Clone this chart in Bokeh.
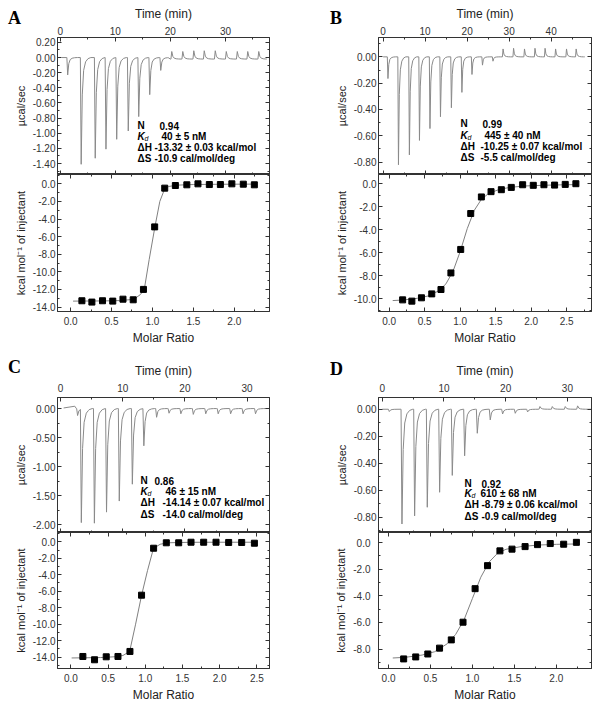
import numpy as np
from bokeh.plotting import figure
from bokeh.models import Range1d, LinearAxis, FixedTicker, PrintfTickFormatter, Label, Div
from bokeh.layouts import row, column
from bokeh.embed import file_html
from bokeh.resources import INLINE

# ---------------- data ----------------
# Panel A
a_inj_time = [1.2, 3.65, 6.2, 8.15, 10.1, 12.2, 14.1, 16.1, 18.1, 20.1, 22.1, 24.1, 26.0, 28.0, 30.0, 32.0, 33.9, 35.9]
a_inj_peak = [-0.23, -1.41, -1.33, -1.21, -1.08, -0.97, -0.78, -0.49, -0.17, 0.10, 0.10, 0.11, 0.11, 0.11, 0.10, 0.10, 0.10, 0.10]
a_base_time = [0.3, 19.6, 20.0, 37.5]
a_base_val = [0.0, 0.0, -0.02, -0.02]
a_ratio = [0.138, 0.26, 0.39, 0.515, 0.64, 0.765, 0.89, 1.027, 1.15, 1.28, 1.42, 1.556, 1.695, 1.83, 1.97, 2.11, 2.245]
a_heat = [-13.28, -13.43, -13.28, -13.32, -13.10, -13.17, -11.99, -4.89, -0.49, -0.19, -0.11, 0.0, -0.08, -0.08, 0.0, -0.04, -0.11]
a_fit_ratio = [0.03, 0.2, 0.4, 0.6, 0.77, 0.85, 0.9, 0.96, 1.03, 1.09, 1.15, 1.2, 1.3, 1.5, 1.8, 2.25]
a_fit_heat = [-13.32, -13.31, -13.3, -13.26, -13.12, -12.6, -12.0, -8.6, -4.9, -2.0, -0.55, -0.3, -0.15, -0.08, -0.05, -0.03]
a_stats = ["0.94", "40 ± 5 nM", "-13.32 ± 0.03 kcal/mol", "-10.9 cal/mol/deg"]

# Panel B
b_inj_time = [1.0, 3.5, 6.1, 8.5, 11.0, 13.5, 16.1, 18.6, 21.0, 23.5, 26.0, 28.4, 30.9, 33.5, 36.0, 38.4, 40.9, 43.5, 45.8]
b_inj_peak = [-0.165, -0.82, -0.745, -0.635, -0.545, -0.455, -0.387, -0.27, -0.134, -0.063, -0.033, 0.06, 0.065, 0.06, 0.065, 0.065, 0.06, 0.06, 0.06]
b_base_time = [0.0, 48.0]
b_base_val = [0.0, 0.0]
b_ratio = [0.19, 0.32, 0.455, 0.60, 0.73, 0.87, 1.008, 1.149, 1.299, 1.435, 1.58, 1.72, 1.88, 2.03, 2.18, 2.33, 2.48, 2.63]
b_heat = [-10.09, -10.2, -9.91, -9.57, -9.19, -7.75, -5.71, -2.59, -1.15, -0.69, -0.52, -0.32, -0.09, -0.14, -0.09, -0.12, -0.06, 0.0]
b_fit_ratio = [0.05, 0.2, 0.4, 0.55, 0.7, 0.8, 0.9, 1.0, 1.1, 1.2, 1.3, 1.4, 1.55, 1.7, 1.9, 2.2, 2.5, 2.65]
b_fit_heat = [-10.15, -10.1, -9.95, -9.75, -9.3, -8.7, -7.6, -5.9, -3.9, -2.3, -1.35, -0.85, -0.5, -0.32, -0.2, -0.13, -0.09, -0.08]
b_stats = ["0.99", "445 ± 40 nM", "-10.25 ± 0.07 kcal/mol", "-5.5 cal/mol/deg"]

# Panel C
c_inj_time = [2.6, 3.2, 5.3, 7.25, 9.3, 11.4, 13.25, 15.3, 17.3, 19.2, 21.2, 23.2, 25.2, 27.2, 29.2, 31.2]
c_inj_peak = [-0.12, -1.95, -1.97, -1.78, -1.59, -1.30, -0.64, -0.15, -0.08, -0.09, -0.10, -0.09, -0.09, -0.09, -0.09, -0.09]
c_base_time = [0.5, 2.3, 2.55, 33.6]
c_base_val = [0.01, 0.04, 0.0, 0.0]
c_ratio = [0.161, 0.318, 0.475, 0.633, 0.794, 0.950, 1.112, 1.283, 1.449, 1.615, 1.785, 1.951, 2.121, 2.296, 2.467]
c_heat = [-13.92, -14.32, -13.96, -13.92, -13.31, -6.48, -0.78, -0.12, -0.12, -0.05, -0.05, -0.05, -0.08, -0.08, -0.17]
c_fit_ratio = [0.01, 0.2, 0.4, 0.6, 0.7, 0.79, 0.87, 0.95, 1.03, 1.11, 1.2, 1.3, 1.6, 2.0, 2.47]
c_fit_heat = [-14.1, -14.08, -14.05, -13.95, -13.8, -13.31, -10.0, -6.5, -3.5, -0.8, -0.3, -0.12, -0.06, -0.05, -0.05]
c_stats = ["0.86", "46 ± 15 nM", "-14.14 ± 0.07 kcal/mol", "-14.0 cal/mol/deg"]

# Panel D
d_inj_time = [1.0, 3.05, 5.1, 7.15, 9.15, 11.2, 13.2, 15.25, 17.35, 19.35, 21.4, 23.4, 25.4, 27.4, 29.5, 31.5]
d_inj_peak = [-0.017, -0.85, -0.79, -0.726, -0.615, -0.49, -0.345, -0.178, -0.079, -0.035, -0.03, -0.02, 0.02, 0.02, 0.02, 0.025]
d_base_time = [0.0, 33.9]
d_base_val = [0.0, 0.0]
d_ratio = [0.18, 0.324, 0.468, 0.608, 0.748, 0.888, 1.032, 1.18, 1.328, 1.472, 1.628, 1.776, 1.928, 2.088, 2.24]
d_heat = [-8.74, -8.59, -8.37, -7.93, -7.31, -5.98, -3.46, -1.73, -0.62, -0.49, -0.30, -0.15, -0.07, -0.12, 0.02]
d_fit_ratio = [0.05, 0.2, 0.4, 0.55, 0.7, 0.8, 0.9, 1.0, 1.1, 1.2, 1.3, 1.4, 1.6, 1.8, 2.0, 2.25]
d_fit_heat = [-8.67, -8.62, -8.45, -8.2, -7.6, -6.9, -5.8, -4.2, -2.6, -1.45, -0.8, -0.5, -0.28, -0.18, -0.13, -0.1]
d_stats = ["0.92", "610 ± 68 nM", "-8.79 ± 0.06 kcal/mol", "-0.9 cal/mol/deg"]

# ticks
time_ticks_35 = [0, 10, 20, 30]
time_minor_35 = [5, 15, 25, 35]
time_ticks_45 = [0, 10, 20, 30, 40]
time_minor_45 = [5, 15, 25, 35, 45]
ratio_ticks = [0.0, 0.5, 1.0, 1.5, 2.0, 2.5]
ratio_minor = [0.25, 0.75, 1.25, 1.75, 2.25, 2.75]
a_top_ticks = [-1.4, -1.2, -1.0, -0.8, -0.6, -0.4, -0.2, 0.0, 0.2]
a_top_minor = [-1.5, -1.3, -1.1, -0.9, -0.7, -0.5, -0.3, -0.1, 0.1]
bd_top_ticks = [-0.8, -0.6, -0.4, -0.2, 0.0]
bd_top_minor = [-0.9, -0.7, -0.5, -0.3, -0.1, 0.1]
c_top_ticks = [-2.0, -1.5, -1.0, -0.5, 0.0]
c_top_minor = [-1.75, -1.25, -0.75, -0.25]
heat14_ticks = [-14.0, -12.0, -10.0, -8.0, -6.0, -4.0, -2.0, 0.0]
heat14_minor = [-15.0, -13.0, -11.0, -9.0, -7.0, -5.0, -3.0, -1.0, 1.0]
heat10_ticks = [-10.0, -8.0, -6.0, -4.0, -2.0, 0.0]
heat10_minor = [-11.0, -9.0, -7.0, -5.0, -3.0, -1.0]
heat8_ticks = [-8.0, -6.0, -4.0, -2.0, 0.0]
heat8_minor = [-9.0, -7.0, -5.0, -3.0, -1.0]

# ---------------- styling ----------------
SPIKE_DT = [0.0, 0.15, 0.35, 0.6, 0.95, 1.4, 1.9]
SPIKE_FR = [0.0, 1.0, 0.35, 0.12, 0.04, 0.01, 0.0]
AX = "#333333"
FONT = "Liberation Sans"
TRACE = "#8a8a8a"


def build_trace(base_t, base_v, inj_t, inj_h):
    t0, t1 = base_t[0], base_t[-1]
    pts = set(base_t)
    for t in inj_t:
        for dt in SPIKE_DT:
            pts.add(round(t + dt, 4))
        pts.add(round(t - 0.02, 4))
    xs = np.array(sorted(q for q in pts if t0 <= q <= t1))
    ys = np.interp(xs, base_t, base_v)
    for t, h in zip(inj_t, inj_h):
        ys = ys + np.interp(xs, np.array(SPIKE_DT) + t, np.array(SPIKE_FR) * h, left=0, right=0)
    return xs, ys


def style_axis(ax, ticks, minor, fmt, label=None, labels=True, label_size="11px",
               tick_standoff=2, label_standoff=3):
    ax.ticker = FixedTicker(ticks=ticks, minor_ticks=minor)
    ax.formatter = PrintfTickFormatter(format=fmt)
    ax.axis_line_color = AX
    ax.major_tick_line_color = AX
    ax.minor_tick_line_color = AX
    ax.major_tick_in = 4
    ax.major_tick_out = 0
    ax.minor_tick_in = 2
    ax.minor_tick_out = 0
    ax.major_label_text_font = FONT
    if labels:
        ax.major_label_text_color = "#333333"
        ax.major_label_text_font_size = "10px"
        ax.major_label_standoff = tick_standoff
    else:
        ax.major_label_text_color = None
        ax.major_label_text_font_size = "0px"
        ax.major_label_standoff = 0
    if label:
        ax.axis_label = label
        ax.axis_label_text_font = FONT
        ax.axis_label_text_font_size = label_size
        ax.axis_label_text_font_style = "normal"
        ax.axis_label_text_color = "#222222"
        ax.axis_label_standoff = label_standoff


def base_fig(fw, fh, xr, yr, br, bb, margin):
    # left and top borders are left at 0 so that the axes sit right on the frame
    p = figure(frame_width=fw, frame_height=fh, x_range=Range1d(*xr), y_range=Range1d(*yr),
               output_backend="svg", toolbar_location=None,
               x_axis_location=None, y_axis_location=None,
               min_border_left=0, min_border_right=br, min_border_top=0, min_border_bottom=bb,
               margin=margin)
    p.grid.visible = False
    p.outline_line_color = AX
    p.background_fill_color = "white"
    p.border_fill_color = None
    return p


def add_stats(p, lx, vx, ry, vals):
    names = ["N", "K", "\u0394H", "\u0394S"]
    for i in range(4):
        p.add_layout(Label(x=lx, y=ry[i], x_units="screen", y_units="screen", text=names[i],
                           text_font=FONT, text_font_style="bold italic" if i == 1 else "bold",
                           text_font_size="10px", text_baseline="middle", text_color="black"))
        p.add_layout(Label(x=vx[i], y=ry[i], x_units="screen", y_units="screen", text=vals[i],
                           text_font=FONT, text_font_style="bold",
                           text_font_size="10px", text_baseline="middle", text_color="black"))
    p.add_layout(Label(x=lx + 7, y=ry[1] - 2, x_units="screen", y_units="screen", text="d",
                       text_font=FONT, text_font_style="italic", text_font_size="7px",
                       text_baseline="middle", text_color="black"))


def letter_div(letter, mt, ml):
    h = 20
    html = ('<span style="font-family:\'Liberation Serif\',serif;font-weight:bold;'
            'font-size:18px;line-height:20px;color:black">%s</span>' % letter)
    return Div(text=html, width=24, height=h, margin=(mt, 0, -(mt + h), ml))


def make_panel(letter, letter_pos, fw, fh_top, fh_bot, ml, mt, br, bb, top_std, bot_left_std,
               t_range, top_y_range, t_ticks, t_minor, y_top_ticks, y_top_minor, y_top_fmt,
               base_t, base_v, inj_t, inj_h, stats, stat_pos,
               r_range, heat_range, heat_ticks, heat_minor,
               ratio, heat, fit_r, fit_h):
    # ---- top: raw thermogram
    top = base_fig(fw, fh_top, t_range, top_y_range, br, 0, (mt, 0, 0, ml))
    ax = LinearAxis(); style_axis(ax, t_ticks, t_minor, "%d", label="Time (min)", label_size="12px",
                                  tick_standoff=top_std[0], label_standoff=top_std[1])
    top.add_layout(ax, "above")
    ax = LinearAxis(); style_axis(ax, t_ticks, t_minor, "%d", labels=False)
    top.add_layout(ax, "below")
    ax = LinearAxis(); style_axis(ax, y_top_ticks, y_top_minor, y_top_fmt, label="\u00b5cal/sec",
                                  tick_standoff=2, label_standoff=3)
    top.add_layout(ax, "left")
    ax = LinearAxis(); style_axis(ax, y_top_ticks, y_top_minor, y_top_fmt, labels=False)
    top.add_layout(ax, "right")
    xs, ys = build_trace(base_t, base_v, inj_t, inj_h)
    top.line(xs, ys, line_color=TRACE, line_width=1)
    add_stats(top, stat_pos[0], stat_pos[1], stat_pos[2], stats)

    # ---- bottom: integrated heats
    bot = base_fig(fw, fh_bot, r_range, heat_range, br, bb, (0, 0, 0, ml))
    ax = LinearAxis(); style_axis(ax, ratio_ticks, ratio_minor, "%.1f", label="Molar Ratio", label_size="12px",
                                  tick_standoff=5, label_standoff=3)
    bot.add_layout(ax, "below")
    ax = LinearAxis(); style_axis(ax, ratio_ticks, ratio_minor, "%.1f", labels=False)
    bot.add_layout(ax, "above")
    ax = LinearAxis(); style_axis(ax, heat_ticks, heat_minor, "%.1f", label="kcal mol\u207b\u00b9 of injectant",
                                  tick_standoff=bot_left_std, label_standoff=3)
    bot.add_layout(ax, "left")
    ax = LinearAxis(); style_axis(ax, heat_ticks, heat_minor, "%.1f", labels=False)
    bot.add_layout(ax, "right")
    bot.line(fit_r, fit_h, line_color="#808080", line_width=1)
    bot.scatter(ratio, heat, marker="square", size=6, fill_color="black", line_color="black")
    return column(letter_div(letter, letter_pos[0], letter_pos[1]), top, bot)


pA = make_panel("A", (8, 8), 212, 137, 137, 11, 3, 63, 49, (3, 3), 2,
                (-0.5, 38.0), (-1.545, 0.265), time_ticks_35, time_minor_35,
                a_top_ticks, a_top_minor, "%.2f",
                a_base_time, a_base_val, a_inj_time, a_inj_peak, a_stats,
                (80, [102, 104, 97, 97], [49, 38, 27, 16]),
                (-0.16, 2.43), (-14.5, 1.06), heat14_ticks, heat14_minor,
                a_ratio, a_heat, a_fit_ratio, a_fit_heat)

pB = make_panel("B", (8, -2), 213, 137, 137, 0, 3, 4, 49, (3, 3), 2,
                (-1.1, 49.6), (-0.894, 0.147), time_ticks_45, time_minor_45,
                bd_top_ticks, bd_top_minor, "%.2f",
                b_base_time, b_base_val, b_inj_time, b_inj_peak, b_stats,
                (82, [104, 106, 102, 102], [51, 39, 28, 17]),
                (-0.15, 2.85), (-11.1, 0.8), heat10_ticks, heat10_minor,
                b_ratio, b_heat, b_fit_ratio, b_fit_heat)

pC = make_panel("C", (-3, 8), 212, 135, 136, 11, 0, 63, 36, (6, 3), 2,
                (-0.48, 33.6), (-2.13, 0.19), time_ticks_35, time_minor_35,
                c_top_ticks, c_top_minor, "%.2f",
                c_base_time, c_base_val, c_inj_time, c_inj_peak, c_stats,
                (83, [97, 108, 105, 105], [52, 41, 30, 18]),
                (-0.18, 2.67), (-15.38, 1.13), heat14_ticks, heat14_minor,
                c_ratio, c_heat, c_fit_ratio, c_fit_heat)

pD = make_panel("D", (-1, -2), 213, 135, 136, 0, 0, 4, 36, (6, 3), 8,
                (-0.6, 33.9), (-0.913, 0.087), time_ticks_35, time_minor_35,
                bd_top_ticks, bd_top_minor, "%.2f",
                d_base_time, d_base_val, d_inj_time, d_inj_peak, d_stats,
                (86, [103, 102, 103, 103], [49, 39, 28, 16]),
                (-0.12, 2.42), (-9.46, 0.76), heat8_ticks, heat8_minor,
                d_ratio, d_heat, d_fit_ratio, d_fit_heat)

layout = column(row(pA, pB), row(pC, pD))

with open("out.html", "w") as f:
    f.write(file_html(layout, INLINE))
